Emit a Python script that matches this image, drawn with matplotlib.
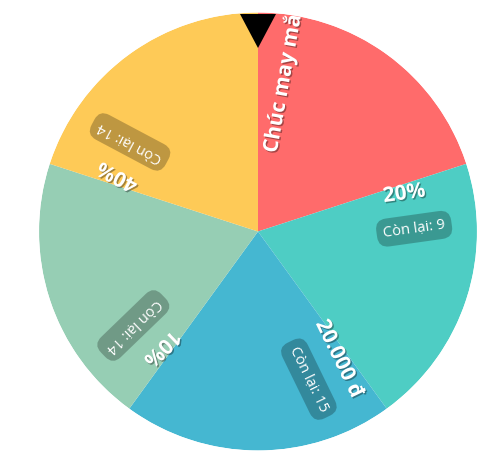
import numpy as np
import matplotlib
matplotlib.use("Agg")
import matplotlib.pyplot as plt
from matplotlib.patches import Wedge, Circle, Polygon
import matplotlib.patheffects as pe

# ---- data ----
prizes = ["Chúc may mắn", "20%", "20.000 đ", "10%", "40%"]
remaining = [None, 9, 15, 14, 14]
colors = ["#FF6B6B", "#4ECDC4", "#45B7D1", "#96CEB4", "#FECA57"]

W, H = 503, 461
fig = plt.figure(figsize=(W / 100, H / 100), dpi=100)
ax = fig.add_axes([0, 0, 1, 1])
ax.set_xlim(0, W)
ax.set_ylim(0, H)
ax.axis("off")

cx, cy = 258.0, H - 231.5
R = 219.0
n = len(prizes)
step = 360.0 / n
start = 90.0
label_shift = 26.0   # label line offset from slice centre (deg)

shadow = [pe.withSimplePatchShadow(offset=(1, -1), shadow_rgbFace="black", alpha=0.35)]

for i, (name, rem, col) in enumerate(zip(prizes, remaining, colors)):
    t2 = start - i * step
    t1 = t2 - step
    ax.add_patch(Wedge((cx, cy), R, t1, t2, facecolor=col, edgecolor="none",
                       antialiased=True, zorder=1))
    phi = (t1 + t2) / 2 + label_shift
    a = np.deg2rad(phi)
    u = np.array([np.cos(a), np.sin(a)])
    v = np.array([-np.sin(a), np.cos(a)])
    if rem is not None:
        rad, off = 150, 17
    else:
        rad, off = 157, 2
    p = np.array([cx, cy]) + rad * u + off * v
    ax.text(p[0], p[1], name, rotation=phi, rotation_mode="anchor",
            ha="center", va="center", color="white", fontsize=15,
            fontweight="bold", family=["Open Sans", "DejaVu Sans"],
            path_effects=shadow, zorder=3)
    if rem is not None:
        q = np.array([cx, cy]) + 155 * u - 19 * v
        ax.text(q[0], q[1], f"Còn lại: {rem}", rotation=phi, rotation_mode="anchor",
                ha="center", va="center", color="white", fontsize=10.5,
                fontweight="medium", family=["Open Sans", "DejaVu Sans"],
                bbox=dict(boxstyle="round,pad=0.45,rounding_size=0.75",
                          facecolor=(0, 0, 0, 0.25), edgecolor="none"), zorder=3)

# white mask outside the wheel (clips overflowing label text)
ax.add_patch(Wedge((cx, cy), R + 400, 0, 360, width=400, facecolor="white",
                   edgecolor="none", zorder=5))

# pointer
ax.add_patch(Polygon([[240, H - 14], [276, H - 14], [258, H - 48]], closed=True,
                     facecolor="black", edgecolor="none", zorder=6))

fig.savefig("out.png", dpi=100, facecolor="white")
